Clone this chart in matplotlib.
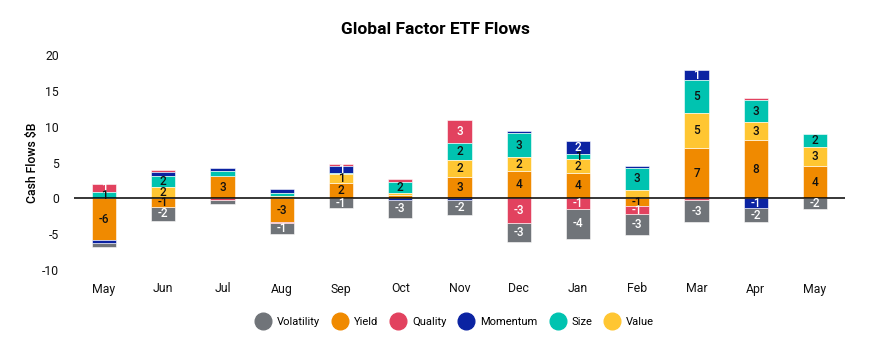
import matplotlib
matplotlib.use("Agg")
import matplotlib.pyplot as plt
from matplotlib.lines import Line2D
import numpy as np

plt.rcParams['font.family'] = ['Roboto', 'DejaVu Sans']

months = ["May", "Jun", "Jul", "Aug", "Sep", "Oct", "Nov", "Dec", "Jan", "Feb", "Mar", "Apr", "May"]
series_names = ["Volatility", "Yield", "Quality", "Momentum", "Size", "Value"]
volatility = [-0.5, -2.0, -0.6, -1.45, -1.35, -2.55, -2.05, -2.7, -4.25, -2.8, -3.0, -1.95, -1.55]
yield_ = [-5.8, -1.15, 3.15, -3.3, 2.2, 0.45, 3.0, 3.8, 3.5, -1.1, 7.0, 8.1, 4.45]
quality = [1.15, 0.2, -0.2, -0.2, 0.3, 0.4, 3.3, -3.4, -1.45, -1.15, -0.3, 0.3, 0.0]
momentum = [-0.45, 0.6, 0.5, 0.65, 1.0, -0.2, -0.25, 0.2, 1.8, 0.15, 1.3, -1.4, 0.0]
size = [0.85, 1.5, 0.6, 0.4, 0.15, 1.55, 2.35, 3.45, 0.75, 3.2, 4.6, 3.05, 1.85]
value = [0.0, 1.6, 0.0, 0.3, 1.2, 0.25, 2.35, 1.9, 1.95, 1.1, 4.95, 2.55, 2.65]
y_ticks = [-10, -5, 0, 5, 10, 15, 20]

data = {"Volatility": volatility, "Yield": yield_, "Quality": quality,
        "Momentum": momentum, "Size": size, "Value": value}
colors = {"Volatility": "#707479", "Yield": "#F08A00", "Quality": "#E2425F",
          "Momentum": "#0B23A2", "Size": "#00C3B0", "Value": "#FFC632"}
label_colors = {"Volatility": "white", "Yield": "#111111", "Quality": "white",
                "Momentum": "white", "Size": "#111111", "Value": "#111111"}
pos_order = ["Yield", "Value", "Size", "Momentum", "Quality", "Volatility"]
neg_order = ["Yield", "Value", "Size", "Quality", "Momentum", "Volatility"]

fig = plt.figure(figsize=(8.7, 3.5), dpi=100)
ax = fig.add_axes([74.4 / 870, 1 - 270 / 350, (844.6 - 74.4) / 870, 215 / 350])

x = np.arange(len(months))
width = 0.41
n = len(months)

bottoms = {k: np.zeros(n) for k in series_names}
pos_acc = np.zeros(n)
for name in pos_order:
    v = np.array(data[name], dtype=float)
    for i in range(n):
        if v[i] > 0:
            bottoms[name][i] = pos_acc[i]
            pos_acc[i] += v[i]
neg_acc = np.zeros(n)
for name in neg_order:
    v = np.array(data[name], dtype=float)
    for i in range(n):
        if v[i] < 0:
            bottoms[name][i] = neg_acc[i]
            neg_acc[i] += v[i]

for name in series_names:
    v = np.array(data[name], dtype=float)
    ax.bar(x, v, width, bottom=bottoms[name], color=colors[name],
           edgecolor="white", linewidth=0.4, zorder=2)

shown = [[] for _ in range(n)]
for name in series_names:
    v = np.array(data[name], dtype=float)
    for i in range(n):
        if abs(v[i]) < 0.7:
            continue
        c = bottoms[name][i] + v[i] / 2
        clash = any((np.sign(c) != np.sign(o)) and abs(c - o) < 1.2 for o in shown[i])
        if clash:
            continue
        shown[i].append(c)
        r = int(np.floor(abs(v[i]) + 0.5)) * (1 if v[i] > 0 else -1)
        ax.text(x[i], c, f"{r}", ha="center", va="center", fontsize=8.5,
                color=label_colors[name], fontweight="medium", zorder=4)

ax.axhline(0, color="black", linewidth=1.1, zorder=3)
ax.set_xlim(-0.5, n - 0.5)
ax.set_ylim(-10, 20)
ax.set_yticks(y_ticks)
ax.set_yticklabels([str(t) for t in y_ticks])
ax.set_xticks(x)
ax.set_xticklabels(months)
ax.tick_params(axis="both", length=0, labelsize=8.8, colors="#111111")
ax.tick_params(axis="y", pad=11)
ax.tick_params(axis="x", pad=9)
for s in ax.spines.values():
    s.set_visible(False)
ax.set_ylabel("Cash Flows $B", fontsize=8.8, fontweight="medium", labelpad=2)

fig.text(0.5, 1 - 30 / 350, "Global Factor ETF Flows", ha="center", va="center",
         fontsize=12.5, fontweight="bold")

handles = [Line2D([], [], marker="o", linestyle="none", markersize=12,
                  markerfacecolor=colors[nm], markeredgecolor=colors[nm]) for nm in series_names]
fig.legend(handles, series_names, loc="center", bbox_to_anchor=(455 / 870, 1 - 322 / 350),
           ncol=6, frameon=False, fontsize=8, handlelength=1.3, handletextpad=0.6,
           columnspacing=1.15)

fig.savefig("out.png", dpi=100)
